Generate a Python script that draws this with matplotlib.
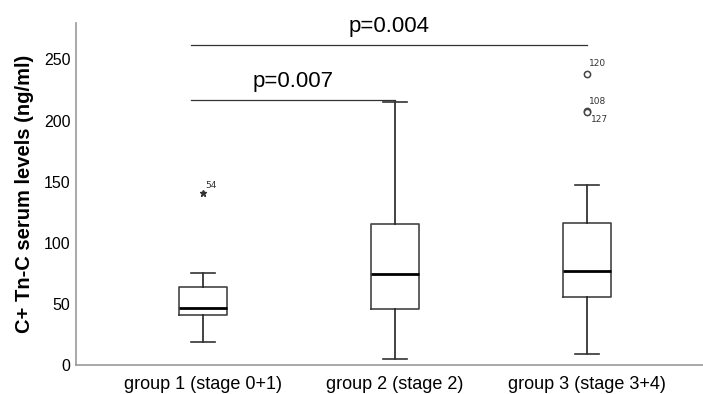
import matplotlib
matplotlib.use("Agg")
import matplotlib.pyplot as plt

plt.rcParams['font.family'] = ['Liberation Sans', 'DejaVu Sans']

groups = ["group 1 (stage 0+1)", "group 2 (stage 2)", "group 3 (stage 3+4)"]
whislo = [19, 5, 9]
q1 = [41, 45.5, 55.5]
med = [46.5, 74, 77]
q3 = [64, 115, 116]
whishi = [75, 215.5, 147]

# outliers: group index, value, case label, marker
out_group = [0, 2, 2, 2]
out_value = [140.5, 238, 208, 207]
out_label = ["54", "120", "108", "127"]
out_marker = ["*", "o", "o", "o"]

pvals = ["p=0.007", "p=0.004"]
p_y = [217, 262]
p_x = [(1, 2), (1, 3)]

stats = []
for i, g in enumerate(groups):
    stats.append(dict(label=g, whislo=whislo[i], q1=q1[i], med=med[i],
                      q3=q3[i], whishi=whishi[i], fliers=[]))

fig = plt.figure(figsize=(7.03, 3.94), dpi=100)
ax = fig.add_axes([0.108, 0.074, 0.892, 0.868])

pos = [1, 2, 3]
ax.bxp(stats, positions=pos, widths=0.25, showfliers=False,
       boxprops=dict(color="#444444", linewidth=1.2),
       whiskerprops=dict(color="#222222", linewidth=1.2),
       capprops=dict(color="#333333", linewidth=1.2),
       medianprops=dict(color="black", linewidth=2.0))

# label offsets (x in axis units, y in data units)
lab_dx = [0.015, 0.01, 0.01, 0.02]
lab_dy = [6, 9, 8, -6]
for g, v, lab, m, dx, dy in zip(out_group, out_value, out_label, out_marker,
                                lab_dx, lab_dy):
    if m == "*":
        ax.plot(pos[g], v, marker="*", color="#333333", markersize=5,
                linestyle="none")
    else:
        ax.plot(pos[g], v, marker="o", markerfacecolor="white",
                markeredgecolor="#444444", markersize=4.5, markeredgewidth=1.1,
                linestyle="none")
    ax.text(pos[g] + dx, v + dy, lab, fontsize=6.5, family="DejaVu Sans",
            color="#333333", va="center", ha="left")

for txt, y, (a, b) in zip(pvals, p_y, p_x):
    ax.plot([a - 0.06, b], [y, y], color="#333333", linewidth=0.9)
    ax.text((a - 0.06 + b) / 2, y + 6.5, txt, fontsize=16, ha="center",
            va="bottom", color="black")

ax.set_xlim(0.339, 3.605)
ax.set_ylim(0, 280)
ax.set_yticks([0, 50, 100, 150, 200, 250])
ax.tick_params(axis="y", length=0, labelsize=11.5, pad=4)
ax.tick_params(axis="x", length=0, labelsize=13, pad=8)
ax.set_ylabel("C+ Tn-C serum levels (ng/ml)", fontsize=14.5,
              fontweight="bold", labelpad=7)
for s in ["top", "right"]:
    ax.spines[s].set_visible(False)
for s in ["left", "bottom"]:
    ax.spines[s].set_color("#999999")
    ax.spines[s].set_linewidth(1.2)

fig.savefig("out.png", dpi=100)
